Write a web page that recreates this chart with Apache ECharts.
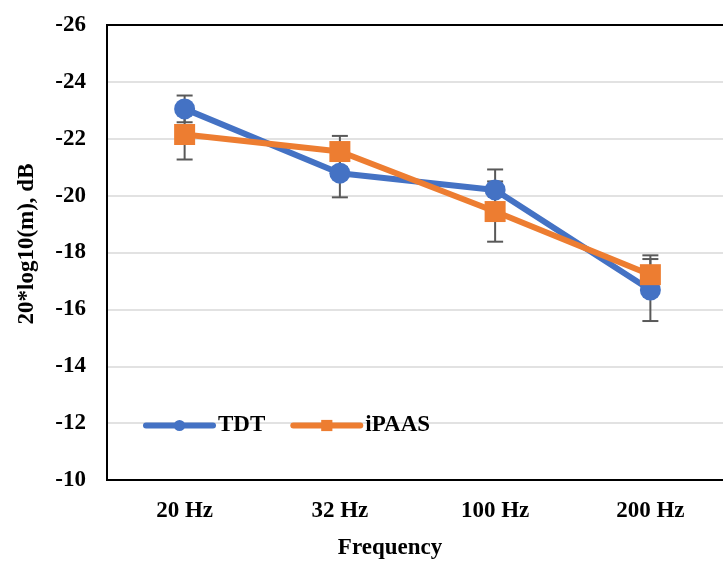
<!DOCTYPE html>
<html>
<head>
<meta charset="utf-8">
<script src="https://cdn.jsdelivr.net/npm/echarts@6/dist/echarts.min.js"></script>
<style>html,body{margin:0;padding:0;background:#fff;}#c{width:723px;height:563px;}</style>
</head>
<body>
<div id="c"></div>
<script>
const categories = ['20 Hz', '32 Hz', '100 Hz', '200 Hz'];
const tdtValues = [-23.05, -20.79, -20.2, -16.68];
const tdtErrors = [0.47, 0.85, 0.72, 1.09];
const ipaasValues = [-22.15, -21.55, -19.44, -17.22];
const ipaasErrors = [0.88, 0.55, 1.06, 0.68];
const yTicks = { min: -26, max: -10, step: 2 };

const FONT = 'Liberation Serif';
const FS = 23;
const chart = echarts.init(document.getElementById('c'), null, { renderer: 'canvas' });

function errData(vals, errs) {
  return vals.map((v, i) => [i, v - errs[i], v + errs[i]]);
}
function errSeries(vals, errs) {
  return {
    type: 'custom',
    silent: true,
    z: 1,
    data: errData(vals, errs),
    renderItem: function (params, api) {
      const x = api.value(0);
      const p1 = api.coord([x, api.value(1)]);
      const p2 = api.coord([x, api.value(2)]);
      const hw = 8;
      const st = { stroke: '#595959', lineWidth: 2 };
      return {
        type: 'group',
        children: [
          { type: 'line', shape: { x1: p1[0], y1: p1[1], x2: p2[0], y2: p2[1] }, style: st },
          { type: 'line', shape: { x1: p1[0] - hw, y1: p1[1], x2: p1[0] + hw, y2: p1[1] }, style: st },
          { type: 'line', shape: { x1: p2[0] - hw, y1: p2[1], x2: p2[0] + hw, y2: p2[1] }, style: st }
        ]
      };
    }
  };
}

const textStyle = { fontFamily: FONT, fontWeight: 'bold', fontSize: FS, color: '#000' };

chart.setOption({
  animation: false,
  backgroundColor: '#fff',
  grid: { left: 107, top: 25, width: 621, height: 455, outerBoundsMode: 'none', containLabel: false, show: true, borderColor: '#000', borderWidth: 2, backgroundColor: 'transparent' },
  legend: {
    left: 138, top: 409,
    itemWidth: 67, itemHeight: 14, itemGap: 25,
    lineStyle: { width: 6, cap: 'round' },
    textStyle: textStyle,
    data: ['TDT', 'iPAAS']
  },
  xAxis: {
    type: 'category',
    data: categories,
    boundaryGap: true,
    axisLine: { show: true, lineStyle: { color: '#000', width: 2 } },
    axisTick: { show: false },
    axisLabel: Object.assign({ margin: 20 }, textStyle),
    splitLine: { show: false }
  },
  yAxis: {
    type: 'value',
    inverse: true,
    min: yTicks.min, max: yTicks.max, interval: yTicks.step,
    axisLine: { show: true, lineStyle: { color: '#000', width: 2 } },
    axisTick: { show: false },
    axisLabel: Object.assign({ margin: 21 }, textStyle),
    splitLine: { show: true, showMinLine: false, showMaxLine: false, lineStyle: { color: '#d9d9d9', width: 1.5 } }
  },
  graphic: [
    { type: 'text', x: 390, y: 548, style: { text: 'Frequency', textAlign: 'center', textVerticalAlign: 'middle', fill: '#000', font: 'bold ' + FS + 'px "Liberation Serif"' } },
    { type: 'text', x: 27, y: 244, rotation: Math.PI / 2, style: { text: '20*log10(m), dB', textAlign: 'center', textVerticalAlign: 'middle', fill: '#000', font: 'bold ' + FS + 'px "Liberation Serif"' } }
  ],
  series: [
    errSeries(tdtValues, tdtErrors),
    errSeries(ipaasValues, ipaasErrors),
    {
      name: 'TDT', type: 'line', data: tdtValues, z: 3,
      symbol: 'circle', symbolSize: 21,
      lineStyle: { color: '#4472C4', width: 6 },
      itemStyle: { color: '#4472C4' }
    },
    {
      name: 'iPAAS', type: 'line', data: ipaasValues, z: 4,
      symbol: 'rect', symbolSize: 21,
      lineStyle: { color: '#ED7D31', width: 6 },
      itemStyle: { color: '#ED7D31' }
    }
  ]
});
</script>
</body>
</html>
